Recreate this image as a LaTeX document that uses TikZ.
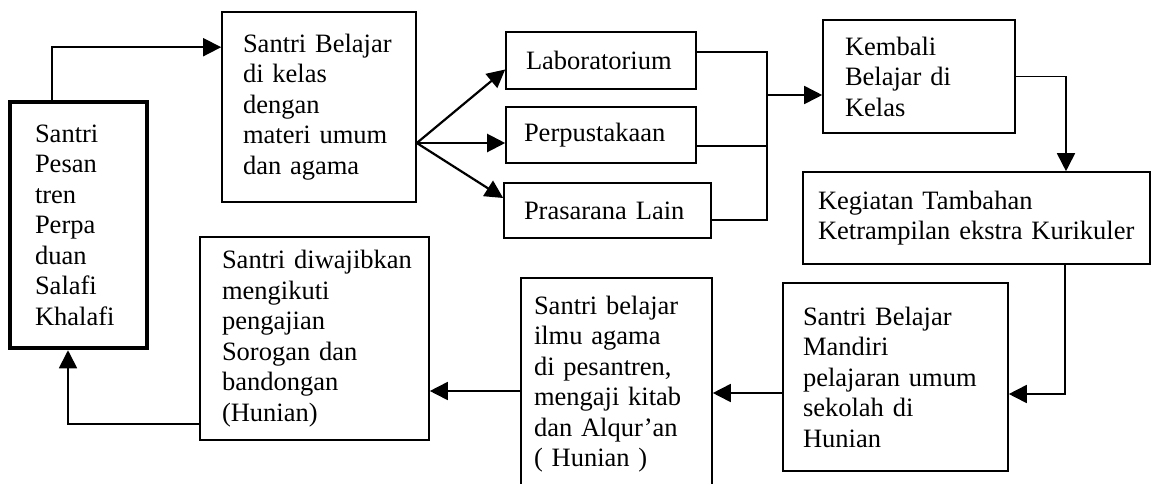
\documentclass[tikz,border=0pt]{standalone}
\usepackage{fontspec}
\setmainfont{Liberation Serif}
\usetikzlibrary{arrows.meta}

\tikzset{
  box/.style={draw, line width=1.6pt, align=left, inner ysep=0pt,
    font=\fontsize{26.5}{30.5}\selectfont},
  arr/.style={line width=1.7pt, -{Triangle[length=18pt,width=18pt]}},
}

\begin{document}
\begin{tikzpicture}[x=1pt,y=-1pt]
            \useasboundingbox (0,0) rectangle (1152,483);
            % kotak-kotak
            \node[box, line width=4.5pt, text width=87pt, inner xsep=25pt, minimum height=246pt] (psn) at (78.5,225)
                {Santri\\Pesan\\tren\\Perpa\\duan\\Salafi\\Khalafi};
            \node[box, text width=152pt, inner xsep=21pt, minimum height=190pt] (kelas) at (319,107)
                {\mbox{Santri Belajar}\\di kelas\\dengan\\materi umum\\dan agama};
            \node[box, text width=150pt, inner xsep=20pt, minimum height=57pt] (lab) at (601,60.5) {Laboratorium};
            \node[box, text width=154pt, inner xsep=18pt, minimum height=56pt] (pus) at (601,135) {Perpustakaan};
            \node[box, text width=167pt, inner xsep=20pt, minimum height=55pt] (pras) at (607.5,210.5) {Prasarana Lain};
            \node[box, text width=148pt, inner xsep=22pt, minimum height=113pt] (kembali) at (919,76.5)
                {Kembali\\Belajar di\\Kelas};
            \node[box, text width=317pt, inner xsep=15pt, minimum height=92pt] (kegiatan) at (976.5,218)
                {Kegiatan Tambahan\\\mbox{Ketrampilan ekstra Kurikuler}};
            \node[box, text width=185pt, inner xsep=20pt, minimum height=188pt] (mandiri) at (895.5,377)
                {Santri Belajar\\Mandiri\\pelajaran umum\\sekolah di\\Hunian};
            \node[box, text width=165pt, inner xsep=13pt, minimum height=212pt] (ilmu) at (616.5,384)
                {Santri belajar\\ilmu agama\\di pesantren,\\mengaji kitab\\dan Alqur'an\\( Hunian )};
            \node[box, text width=185pt, inner xsep=22pt, minimum height=203pt] (wajib) at (314.5,338.5)
                {\mbox{Santri diwajibkan}\\mengikuti\\pengajian\\Sorogan dan\\bandongan\\(Hunian)};
            % panah
            \draw[arr] ([xshift=-26.5pt]psn.north) |- ([yshift=-36pt]kelas.north west);
            \coordinate (fan) at ([yshift=-36pt]kelas.east);
            \draw[arr, line width=2.2pt] (fan) -- ([yshift=-9pt]lab.west);
            \draw[arr, line width=2.2pt] (fan) -- (fan -| pus.west);
            \draw[arr, line width=2.2pt] (fan) -- ([yshift=12.5pt]pras.west);
            \coordinate (brk) at (767,95);
            \draw[line width=1.6pt] ([yshift=8.5pt]lab.east) -| (brk);
            \draw[line width=1.6pt] ([yshift=-9.5pt]pras.east) -| (brk);
            \draw[line width=1.6pt] ([yshift=-11pt]pus.east) -- ([yshift=-11pt]pus.east -| brk);
            \draw[arr] (brk) -- (brk -| kembali.west);
            \draw[arr] (kembali.east) -| ([xshift=89.5pt]kegiatan.north);
            \draw[arr] ([xshift=88.5pt]kegiatan.south) |- ([yshift=-17pt]mandiri.east);
            \draw[arr] ([yshift=-16pt]mandiri.west) -- ([yshift=-16pt]mandiri.west -| ilmu.east);
            \draw[arr] ([yshift=-7pt]ilmu.west) -- ([yshift=-7pt]ilmu.west -| wajib.east);
            \draw[arr] ([yshift=-85.5pt]wajib.west) -| ([xshift=-10.5pt]psn.south);
        \end{tikzpicture}
\end{document}
